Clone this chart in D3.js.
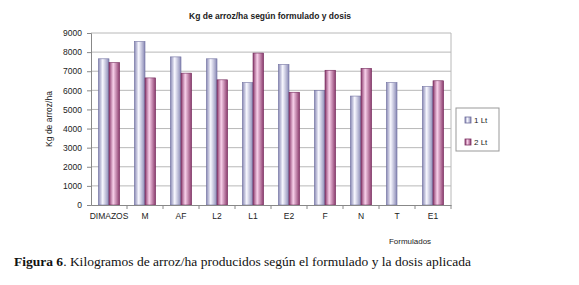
<!DOCTYPE html>
<html>
<head>
<meta charset="utf-8">
<script src="https://cdn.jsdelivr.net/npm/d3@7"></script>
<style>
  body { margin: 0; background: #fff; }
  svg { display: block; }
</style>
</head>
<body>
<div id="chart"></div>
<script>
const categories = ["DIMAZOS", "M", "AF", "L2", "L1", "E2", "F", "N", "T", "E1"];
const series = ["1 Lt", "2 Lt"];
const values1Lt = [7650, 8550, 7750, 7650, 6400, 7350, 6000, 5700, 6400, 6200];
const values2Lt = [7450, 6650, 6900, 6550, 7950, 5900, 7050, 7150, 0, 6500];
const yTicks = [0, 1000, 2000, 3000, 4000, 5000, 6000, 7000, 8000, 9000];

const width = 579, height = 285;
const margin = { left: 91, right: 128, top: 33, bottom: 80 };

const svg = d3.select("#chart").append("svg")
    .attr("width", width)
    .attr("height", height);

// Gradients for the cylinder look
const defs = svg.append("defs");
const grads = [
    { id: "g1", edge: "#8888b4", mid: "#f8f8ff" },
    { id: "g2", edge: "#8a3a6c", mid: "#f8d0ea" }
];
grads.forEach(g => {
    const lg = defs.append("linearGradient").attr("id", g.id)
        .attr("x1", "0%").attr("x2", "100%").attr("y1", "0%").attr("y2", "0%");
    lg.append("stop").attr("offset", "0%").attr("stop-color", g.edge);
    lg.append("stop").attr("offset", "40%").attr("stop-color", g.mid);
    lg.append("stop").attr("offset", "100%").attr("stop-color", g.edge);
});

const x = d3.scaleBand()
    .domain(categories)
    .range([margin.left, width - margin.right]);

const xInner = d3.scaleBand()
    .domain(series)
    .range([0, x.bandwidth()])
    .paddingInner(0)
    .paddingOuter(0.7);

const y = d3.scaleLinear()
    .domain([0, 9000])
    .range([height - margin.bottom, margin.top]);

// Gridlines
svg.append("g")
    .selectAll("line")
    .data(yTicks.slice(1))
    .join("line")
    .attr("x1", margin.left)
    .attr("x2", width - margin.right)
    .attr("y1", d => y(d))
    .attr("y2", d => y(d))
    .attr("stroke", "#b8b8b8")
    .attr("stroke-width", 1);

// Plot border (right)
svg.append("line")
    .attr("x1", width - margin.right).attr("x2", width - margin.right)
    .attr("y1", margin.top).attr("y2", height - margin.bottom)
    .attr("stroke", "#b8b8b8");

// Bars
const rows = categories.map((c, i) => ({ cat: c, vals: [values1Lt[i], values2Lt[i]] }));
const groups = svg.append("g")
    .selectAll("g")
    .data(rows)
    .join("g")
    .attr("transform", d => `translate(${x(d.cat)},0)`);

groups.selectAll("rect")
    .data(d => d.vals.map((v, j) => ({ s: series[j], v, j })).filter(e => e.v > 0))
    .join("rect")
    .attr("x", d => xInner(d.s))
    .attr("width", xInner.bandwidth())
    .attr("y", d => y(d.v))
    .attr("height", d => y(0) - y(d.v))
    .attr("fill", d => `url(#g${d.j + 1})`)
    .attr("stroke", d => d.j === 0 ? "#7070a0" : "#72285a")
    .attr("stroke-width", 0.6);

// Y axis
const yAxis = svg.append("g")
    .attr("transform", `translate(${margin.left},0)`)
    .call(d3.axisLeft(y).tickValues(yTicks).tickSize(4).tickPadding(5).tickFormat(d3.format("d")));
yAxis.select(".domain").attr("stroke", "#888");
yAxis.selectAll(".tick line").attr("stroke", "#888");
yAxis.selectAll("text")
    .attr("fill", "#222")
    .style("font-family", "Liberation Sans, Arial, sans-serif")
    .style("font-size", "8.5px");

// X axis
const xAxis = svg.append("g")
    .attr("transform", `translate(0,${height - margin.bottom})`)
    .call(d3.axisBottom(x).tickSize(0).tickPadding(8));
xAxis.select(".domain").attr("stroke", "#888");
xAxis.selectAll("text")
    .attr("fill", "#222")
    .style("font-family", "Liberation Sans, Arial, sans-serif")
    .style("font-size", "8.5px");

// tick marks between categories
svg.append("g")
    .selectAll("line")
    .data(categories.slice(1).concat(["__end"]))
    .join("line")
    .attr("x1", d => d === "__end" ? width - margin.right : x(d))
    .attr("x2", d => d === "__end" ? width - margin.right : x(d))
    .attr("y1", height - margin.bottom)
    .attr("y2", height - margin.bottom + 4)
    .attr("stroke", "#888");

// Title
svg.append("text")
    .attr("x", 270)
    .attr("y", 19)
    .attr("text-anchor", "middle")
    .style("font-family", "Liberation Sans, Arial, sans-serif")
    .style("font-size", "8.5px")
    .style("font-weight", "bold")
    .attr("fill", "#222")
    .text("Kg de arroz/ha según formulado y dosis");

// Y label
svg.append("text")
    .attr("transform", `translate(52,${(margin.top + height - margin.bottom) / 2}) rotate(-90)`)
    .attr("text-anchor", "middle")
    .style("font-family", "Liberation Sans, Arial, sans-serif")
    .style("font-size", "8.5px")
    .attr("fill", "#222")
    .text("Kg de arroz/ha");

// X label
svg.append("text")
    .attr("x", 410)
    .attr("y", 244)
    .attr("text-anchor", "middle")
    .style("font-family", "Liberation Sans, Arial, sans-serif")
    .style("font-size", "8px")
    .attr("fill", "#222")
    .text("Formulados");

// Legend
const legend = svg.append("g").attr("transform", "translate(456,108)");
legend.append("rect")
    .attr("width", 43).attr("height", 43)
    .attr("fill", "#fff").attr("stroke", "#999");
const li = legend.selectAll("g.item")
    .data(series)
    .join("g")
    .attr("class", "item")
    .attr("transform", (d, i) => `translate(9,${9 + i * 22})`);
li.append("rect")
    .attr("width", 6).attr("height", 6)
    .attr("fill", (d, i) => `url(#g${i + 1})`)
    .attr("stroke", (d, i) => i === 0 ? "#6a6a9a" : "#7a3060")
    .attr("stroke-width", 0.8);
li.append("text")
    .attr("x", 9).attr("y", 6)
    .style("font-family", "Liberation Sans, Arial, sans-serif")
    .style("font-size", "8px")
    .attr("fill", "#222")
    .text(d => d);

// Caption
const cap = svg.append("text")
    .attr("x", 14)
    .attr("y", 266)
    .style("font-family", "Liberation Serif, DejaVu Serif, serif")
    .style("font-size", "13.5px")
    .attr("fill", "#111");
cap.append("tspan").style("font-weight", "bold").text("Figura 6");
cap.append("tspan").text(". Kilogramos de arroz/ha producidos según el formulado y la dosis aplicada");
</script>
</body>
</html>
